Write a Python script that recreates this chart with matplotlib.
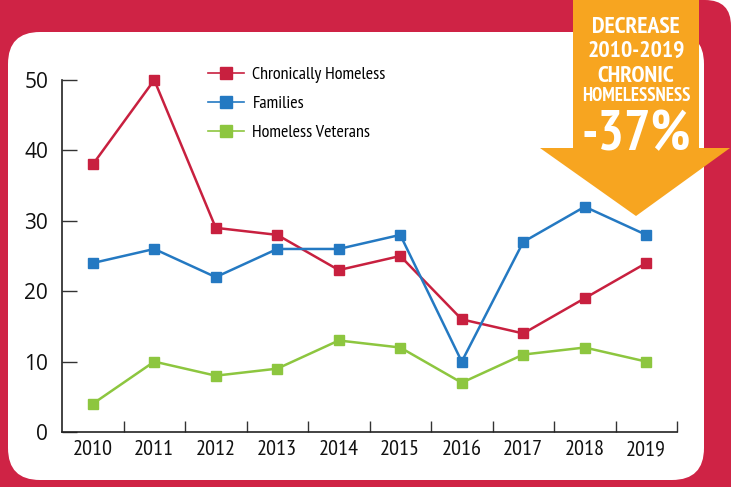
import matplotlib
matplotlib.use('Agg')
import matplotlib.pyplot as plt
from matplotlib.patches import FancyBboxPatch, Polygon
from matplotlib.lines import Line2D

years = ['2010', '2011', '2012', '2013', '2014', '2015', '2016', '2017', '2018', '2019']
chronic = [38, 50, 29, 28, 23, 25, 16, 14, 19, 24]
families = [24, 26, 22, 26, 26, 28, 10, 27, 32, 28]
veterans = [4, 10, 8, 9, 13, 12, 7, 11, 12, 10]
series_names = ['Chronically Homeless', 'Families', 'Homeless Veterans']
callout_lines = ['DECREASE', '2010-2019', 'CHRONIC', 'HOMELESSNESS']
callout_value = '-37%'

red = '#CF2345'
line_red = '#C8203F'
blue = '#2479C2'
green = '#8DC63F'
orange = '#F7A520'

narrow = ['PT Sans Narrow', 'DejaVu Sans']
regular = ['Open Sans', 'DejaVu Sans']

W, H = 731, 487
fig = plt.figure(figsize=(W / 100, H / 100), dpi=100)
fig.patch.set_facecolor('white')

# background frame in pixel coordinates (y grows downwards)
bg = fig.add_axes([0, 0, 1, 1], zorder=0)
bg.set_xlim(0, W)
bg.set_ylim(H, 0)
bg.axis('off')
bg.add_patch(FancyBboxPatch((-60, 0), W + 60, H + 60,
                            boxstyle='round,pad=0,rounding_size=26',
                            fc=red, ec='none'))
bg.add_patch(FancyBboxPatch((8, 32), 696, 448,
                            boxstyle='round,pad=0,rounding_size=32',
                            fc='white', ec='none'))

# chart
ax = fig.add_axes([62 / W, 55 / H, 615 / W, 352 / H], zorder=1)
ax.patch.set_alpha(0)
x = list(range(len(years)))
for vals, col, name in zip((chronic, families, veterans), (line_red, blue, green), series_names):
    ax.plot(x, vals, color=col, lw=1.8, marker='s', ms=6.5, label=name, clip_on=False)

ax.set_xlim(-0.5, 9.5)
ax.set_ylim(0, 50)
ax.set_yticks([0, 10, 20, 30, 40, 50])
ax.set_xticks(x)
ax.set_xticklabels(years, family=narrow, fontsize=16, color='#111111')
ax.set_xticks([i + 0.5 for i in x], minor=True)
ax.tick_params(axis='x', which='major', length=0, pad=6)
ax.tick_params(axis='x', which='minor', direction='in', length=8, width=1, color='#333333')
ax.tick_params(axis='y', direction='in', length=11, width=1, color='#333333', pad=10,
               labelsize=15, labelcolor='#111111')
for lab in ax.get_yticklabels():
    lab.set_family(regular)
for s in ['top', 'right']:
    ax.spines[s].set_visible(False)
for s in ['left', 'bottom']:
    ax.spines[s].set_color('#222222')
    ax.spines[s].set_linewidth(1.2)

handles = [Line2D([], [], color=c, lw=1.2, marker='s', ms=8.5) for c in (line_red, blue, green)]
ax.legend(handles, series_names, loc='upper left', bbox_to_anchor=(192 / W, 1 - 50 / H),
          bbox_transform=fig.transFigure, frameon=False, handlelength=2.0,
          handletextpad=0.45, labelspacing=0.7, prop={'family': narrow, 'size': 13})

# callout arrow
ov = fig.add_axes([0, 0, 1, 1], zorder=2)
ov.set_xlim(0, W)
ov.set_ylim(H, 0)
ov.axis('off')
ov.patch.set_alpha(0)
ov.add_patch(Polygon([(573, -2), (699, -2), (699, 148), (730, 148), (636, 216),
                      (540, 148), (573, 148)], closed=True, fc=orange, ec='none'))
cx = 636
for txt, yb, fs in zip(callout_lines, [33, 57, 82, 101], [17, 17, 17, 13.5]):
    ov.text(cx, yb, txt, ha='center', va='baseline', color='white',
            fontweight='bold', family=narrow, fontsize=fs)
ov.text(cx, 150, callout_value, ha='center', va='baseline', color='white',
        fontweight='bold', family=narrow, fontsize=40)

fig.savefig('out.png', dpi=100, facecolor=fig.get_facecolor())
